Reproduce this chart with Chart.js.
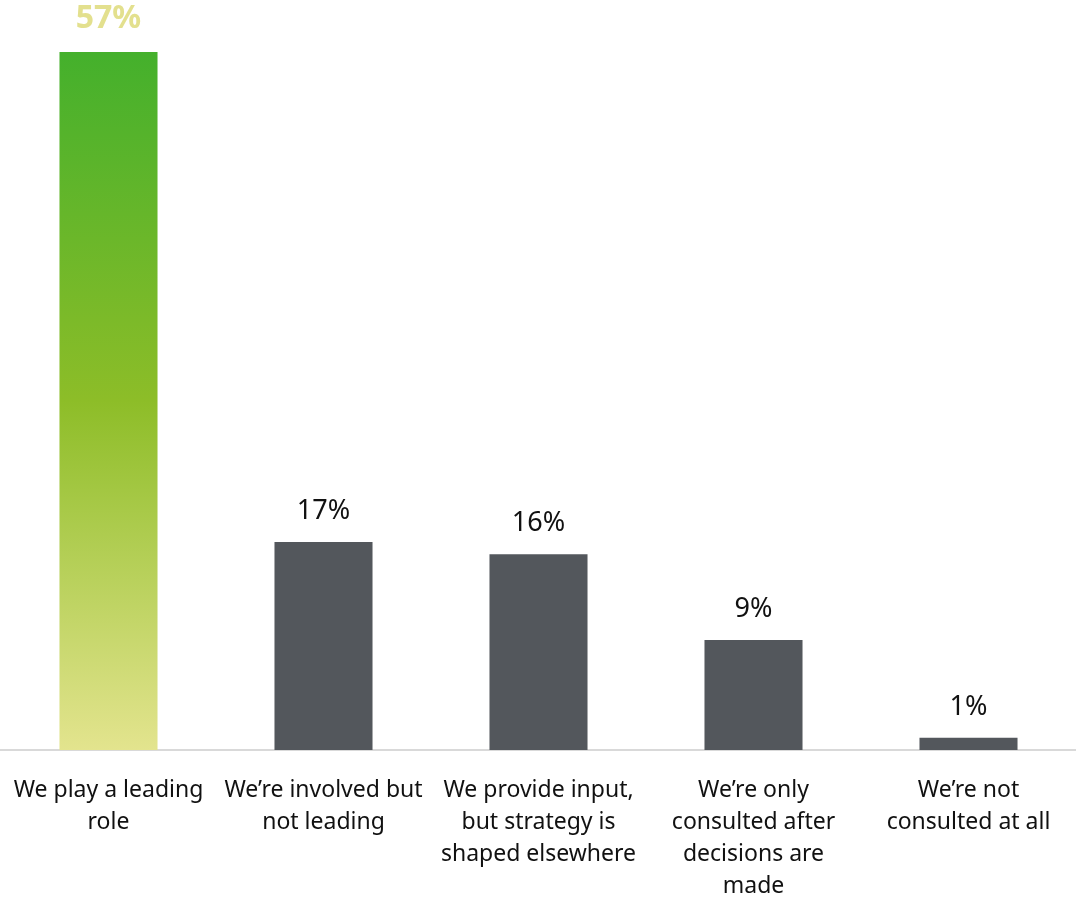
<!DOCTYPE html>
<html>
<head>
<meta charset="utf-8">
<script src="https://cdn.jsdelivr.net/npm/chart.js@4"></script>
<style>
  body { margin: 0; background: #fff; }
  #wrap { width: 1076px; height: 897px; }
</style>
</head>
<body>
<div id="wrap"><canvas id="roleChart"></canvas></div>
<script>
const categories = [
  ['We play a leading', 'role'],
  ['We\u2019re involved but', 'not leading'],
  ['We provide input,', 'but strategy is', 'shaped elsewhere'],
  ['We\u2019re only', 'consulted after', 'decisions are', 'made'],
  ['We\u2019re not', 'consulted at all']
];
const shares = [57, 17, 16, 9, 1];
const barColor = '#53575c';

const fontFamily = '"Noto Sans", "Open Sans", sans-serif';

// value labels drawn above each bar
const valueLabels = {
  id: 'valueLabels',
  afterDatasetsDraw(chart) {
    const ctx = chart.ctx;
    const meta = chart.getDatasetMeta(0);
    ctx.save();
    ctx.textAlign = 'center';
    ctx.textBaseline = 'middle';
    meta.data.forEach((bar, i) => {
      if (i === 0) {
        ctx.font = 'bold 32px ' + fontFamily;
        ctx.fillStyle = '#e3e08e';
        ctx.fillText(shares[i] + '%', bar.x, bar.y - 33);
      } else {
        ctx.font = '27px ' + fontFamily;
        ctx.fillStyle = '#111';
        ctx.fillText(shares[i] + '%', bar.x, bar.y - 31);
      }
    });
    ctx.restore();
  }
};

function firstBarFill(context) {
  const chart = context.chart;
  const area = chart.chartArea;
  if (!area) return '#45b02c';
  if (context.dataIndex !== 0) return barColor;
  const y = chart.scales.y;
  const g = chart.ctx.createLinearGradient(0, y.getPixelForValue(shares[0]), 0, area.bottom);
  g.addColorStop(0, '#44b02c');
  g.addColorStop(0.5, '#8dbd28');
  g.addColorStop(1, '#e3e48e');
  return g;
}

new Chart(document.getElementById('roleChart'), {
  type: 'bar',
  data: {
    labels: categories,
    datasets: [{
      data: shares,
      backgroundColor: firstBarFill,
      categoryPercentage: 1,
      barPercentage: 0.456
    }]
  },
  options: {
    responsive: true,
    maintainAspectRatio: false,
    animation: false,
    layout: { padding: { top: 52, left: 1, right: -1, bottom: -21 } },
    scales: {
      x: {
        grid: { display: false },
        border: { color: '#d9d9d9', width: 2 },
        ticks: {
          color: '#111',
          font: { family: fontFamily, size: 23, lineHeight: 1.39 },
          maxRotation: 0,
          autoSkip: false,
          padding: 16
        },
        afterFit(scale) {
          // labels fit inside their slots, no side padding needed
          scale.paddingLeft = 0;
          scale.paddingRight = 0;
        }
      },
      y: {
        display: false,
        min: 0,
        max: 57
      }
    },
    plugins: {
      legend: { display: false },
      tooltip: { enabled: false }
    }
  },
  plugins: [valueLabels]
});
</script>
</body>
</html>
